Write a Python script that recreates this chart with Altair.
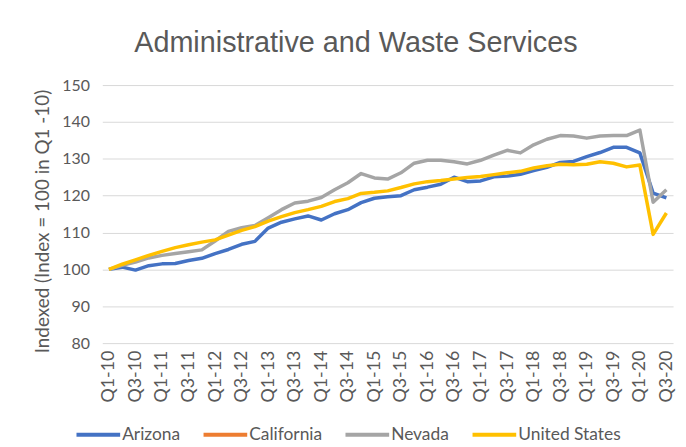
import altair as alt
import pandas as pd

quarters = [f"Q{q}-{y}" for y in range(10, 21) for q in range(1, 5)][:43]
tick_labels = quarters[::2]

arizona = [100, 100.6, 99.8, 101.0, 101.5, 101.6, 102.4, 103.0, 104.3, 105.4,
           106.8, 107.6, 111.2, 112.8, 113.7, 114.5, 113.4, 115.1, 116.2, 118.1,
           119.3, 119.7, 120.0, 121.6, 122.3, 123.1, 125.0, 123.8, 124.0, 125.1,
           125.3, 125.8, 126.8, 127.7, 129.0, 129.3, 130.6, 131.7, 133.1, 133.1,
           131.6, 120.7, 119.4]
california = [None] * 43
nevada = [100, 101.1, 102.0, 103.1, 103.8, 104.3, 104.8, 105.3, 107.7, 110.3,
          111.3, 111.9, 114.0, 116.2, 118.0, 118.5, 119.5, 121.6, 123.5, 126.0,
          124.8, 124.5, 126.2, 128.8, 129.6, 129.6, 129.2, 128.6, 129.6, 131.0,
          132.3, 131.6, 133.8, 135.3, 136.3, 136.2, 135.6, 136.2, 136.3, 136.3,
          137.8, 118.2, 121.6]
united_states = [100, 101.4, 102.6, 103.8, 104.9, 105.9, 106.7, 107.4, 108.0, 109.3,
                 110.6, 111.6, 113.1, 114.3, 115.4, 116.2, 117.1, 118.4, 119.2, 120.6,
                 120.9, 121.3, 122.2, 123.2, 123.8, 124.1, 124.5, 124.9, 125.2, 125.7,
                 126.2, 126.6, 127.5, 128.1, 128.5, 128.4, 128.5, 129.2, 128.8, 127.8,
                 128.3, 109.5, 115.3]

series_names = ["Arizona", "California", "Nevada", "United States"]
series_colors = ["#4472C4", "#ED7D31", "#A5A5A5", "#FFC000"]
series_values = [arizona, california, nevada, united_states]

rows = []
for name, vals in zip(series_names, series_values):
    for q, v in zip(quarters, vals):
        rows.append({"quarter": q, "series": name, "value": v})
df = pd.DataFrame(rows)

FONT = "Lato"
GREY = "#595959"

chart = alt.Chart(df).mark_line(strokeWidth=3.5, strokeJoin="round").encode(
    x=alt.X("quarter:O", sort=quarters,
            scale=alt.Scale(type="point", padding=0.5),
            axis=alt.Axis(values=tick_labels, labelAngle=-90, labelPadding=7,
                          ticks=False, domain=False, grid=False, title=None,
                          labelFontSize=18, labelColor=GREY, labelFont=FONT)),
    y=alt.Y("value:Q", scale=alt.Scale(domain=[80, 150], nice=False, zero=False),
            axis=alt.Axis(values=[80, 90, 100, 110, 120, 130, 140, 150],
                          ticks=False, domain=False, gridColor="#D9D9D9",
                          labelPadding=13, labelFontSize=16, labelColor=GREY,
                          labelFont=FONT,
                          title="Indexed (Index = 100 in Q1 -10)",
                          titleFont=FONT, titleFontSize=19, titleFontWeight="normal",
                          titleColor=GREY, titleX=-60, titleY=137,
                          titleAngle=-90, titleAlign="center", titleBaseline="middle")),
    color=alt.Color("series:N",
                    scale=alt.Scale(domain=series_names, range=series_colors),
                    legend=alt.Legend(title=None, orient="none", direction="horizontal",
                                      legendX=-28, legendY=328,
                                      symbolType="stroke", symbolSize=1936,
                                      symbolStrokeWidth=4, labelOffset=0,
                                      columnPadding=15, labelFontSize=17.5,
                                      labelColor=GREY, labelFont=FONT)),
).properties(
    width=575,
    height=260,
    title=alt.TitleParams("Administrative and Waste Services", font="Liberation Sans",
                          fontSize=29, fontWeight="normal", color=GREY,
                          anchor="middle", dx=-32, offset=19),
    padding={"left": 95, "top": 76, "right": 5, "bottom": 100},
    autosize=alt.AutoSizeParams(type="none"),
).configure_view(stroke=None)

chart.save("out.html", embed_options={"renderer": "svg", "actions": False})
